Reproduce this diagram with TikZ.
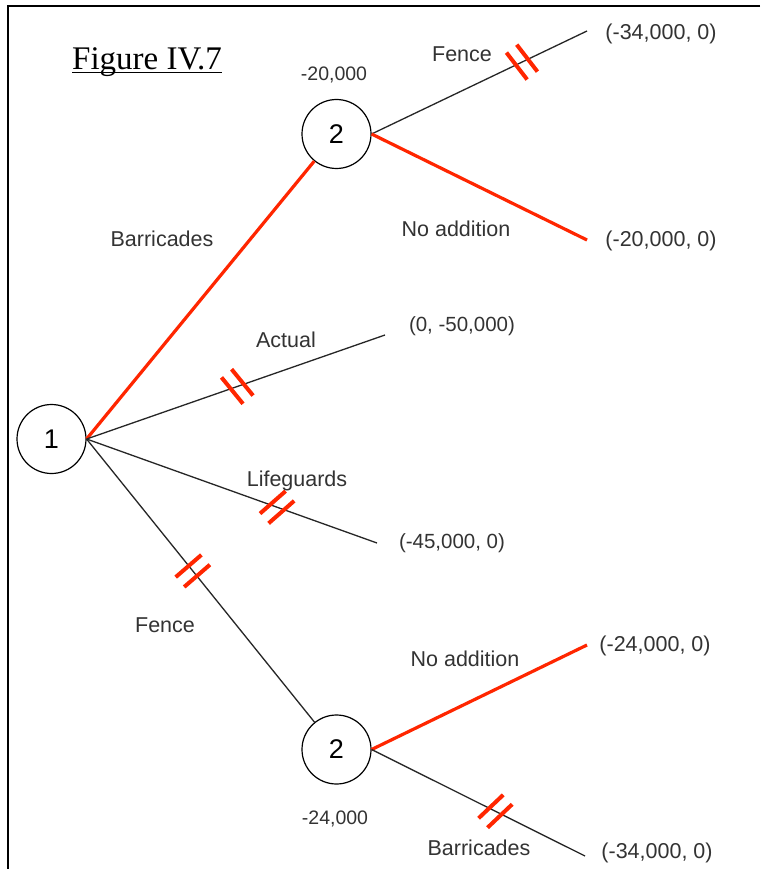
\documentclass[tikz,border=0pt]{standalone}
\usepackage{fontspec}
\setmainfont{Liberation Sans}
\newfontfamily\seriffont{Liberation Serif}
\usetikzlibrary{decorations.markings,calc}
\definecolor{tred}{RGB}{255,38,0}
\definecolor{tgray}{RGB}{51,51,51}
\begin{document}
\begin{tikzpicture}[x=1pt,y=-1pt,
  state/.style={circle,draw=black,line width=1.2pt,minimum size=69pt,inner sep=0pt,font=\fontsize{27}{27}\selectfont},
  lbl/.style={text=tgray,font=\fontsize{21.5}{22}\selectfont,inner sep=0pt},
  mlbl/.style={text=tgray,font=\fontsize{20.5}{21}\selectfont,inner sep=0pt},
  vlbl/.style={text=tgray,font=\fontsize{19.5}{20}\selectfont,inner sep=0pt},
  plain/.style={draw=black!85,line width=1.3pt},
  best/.style={draw=tred,line width=3.2pt},
  cut/.style 2 args={postaction={decorate,decoration={markings,mark=at position #1 with {\draw[tred,line width=4pt,rotate=#2] (-6.5pt,-17pt)--(-6.5pt,17pt) (6.5pt,-17pt)--(6.5pt,17pt);}}}}
]
\useasboundingbox (0,0) rectangle (760,869);
\fill[white] (0,0) rectangle (760,869);
\draw[line width=1.8pt] (760,6) -- (8,6) -- (8,869);

\node[state] (n1) at (51.5,439) {1};
\node[state] (n2a) at (336.5,134) {2};
\node[state] (n2b) at (336.5,749.5) {2};

\coordinate (e1) at (587,31);
\coordinate (e2) at (587,240);
\coordinate (e3) at (385,335);
\coordinate (e4) at (377,543);
\coordinate (e5) at (587,645);
\coordinate (e6) at (585,856);

\draw[best] (n1.east) -- (n2a);
\draw[plain,cut={0.505}{20}] (n1.east) -- (e3);
\draw[plain,cut={0.656}{-29}] (n1.east) -- (e4);
\draw[plain,cut={0.466}{2}] (n1.east) -- (n2b);
\draw[plain,cut={0.698}{12}] (n2a.east) -- (e1);
\draw[best] (n2a.east) -- (e2);
\draw[best] (n2b.east) -- (e5);
\draw[plain,cut={0.58}{-20}] (n2b.east) -- (e6);

\node[font=\seriffont\fontsize{33}{33}\selectfont,anchor=base west,inner sep=0pt] (title) at (72,69.5) {Figure IV.7};
\draw[line width=1pt] ($(title.base west)+(0,3)$) -- ($(title.base east)+(0,3)$);

\node[vlbl] (v1) at (334,75) {-20,000};
\node[lbl] (l1) at (462,54) {Fence};
\node[lbl] (p1) at (661,34) {(-34,000, 0)};
\node[lbl] (l2) at (456,229) {No addition};
\node[lbl] (p2) at (661,241) {(-20,000, 0)};
\node[lbl] (l3) at (162,239) {Barricades};
\node[lbl] (l4) at (286,340) {Actual};
\node[mlbl] (p3) at (462,326) {(0, -50,000)};
\node[lbl] (l5) at (297,481) {Lifeguards};
\node[mlbl] (p4) at (452,543) {(-45,000, 0)};
\node[lbl] (l6) at (165,625) {Fence};
\node[vlbl] (v2) at (335,819) {-24,000};
\node[lbl] (l7) at (465,659) {No addition};
\node[lbl] (p5) at (655,646) {(-24,000, 0)};
\node[lbl] (l8) at (479,848) {Barricades};
\node[lbl] (p6) at (657,853) {(-34,000, 0)};
\end{tikzpicture}
\end{document}
